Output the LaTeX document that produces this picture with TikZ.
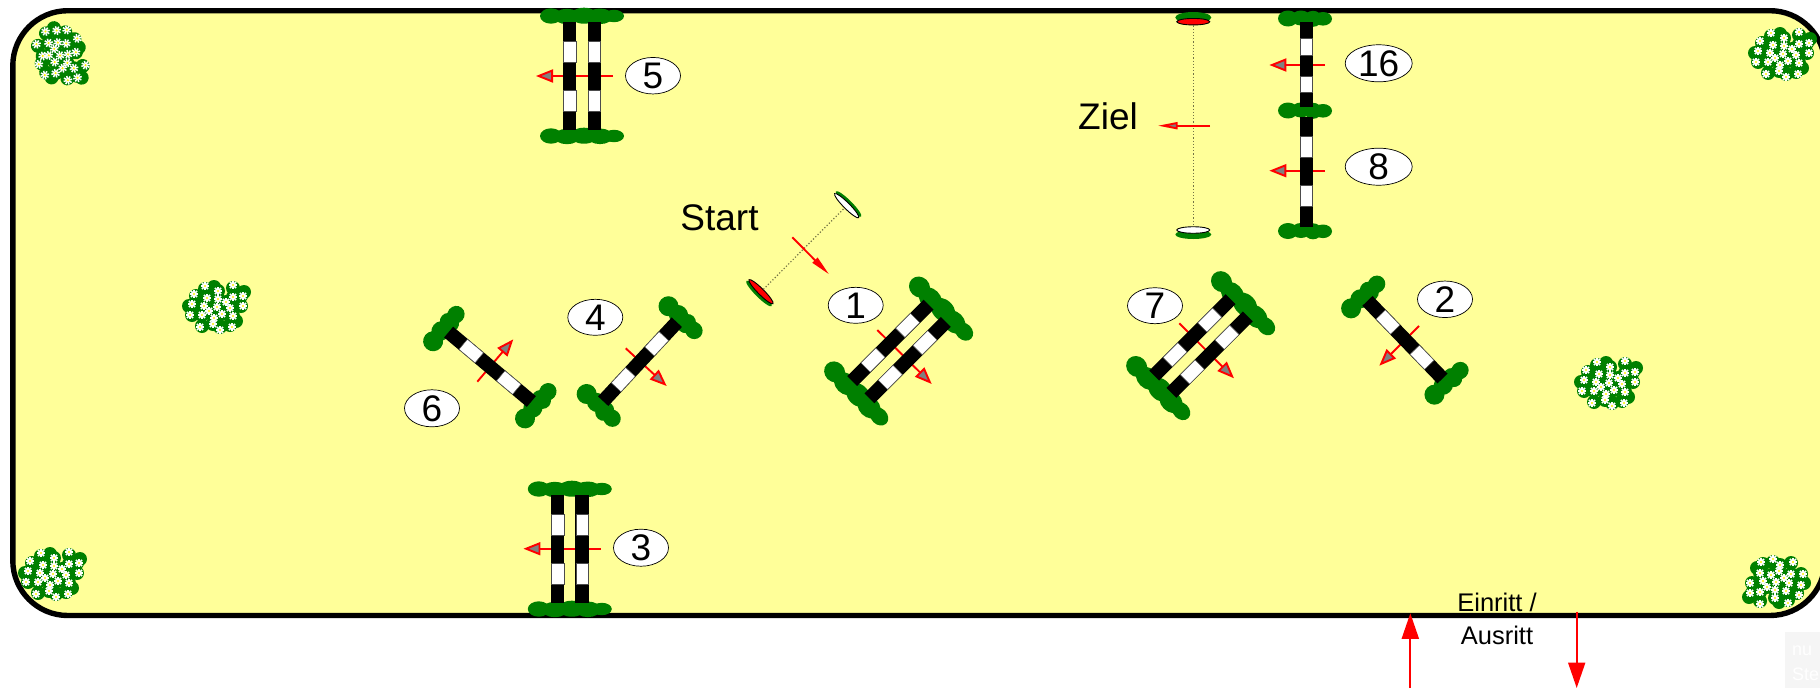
\documentclass[tikz,border=0pt]{standalone}
\usepackage{fontspec}
\setmainfont{Liberation Sans}
\usetikzlibrary{arrows.meta,shapes.geometric}
\definecolor{arena}{RGB}{255,255,153}
\definecolor{hedge}{RGB}{0,128,0}
\definecolor{dirgray}{RGB}{128,128,128}
\tikzset{
  frame/.style={draw=black,line width=5.4pt,fill=arena,rounded corners=55pt},
  polebar/.style={fill=black,draw=none},
  polegap/.style={fill=white,draw=black!70,line width=.5pt},
  greenblob/.style={fill=hedge,draw=none},
  numlabel/.style={ellipse,draw=black,fill=white,line width=.7pt,inner sep=0pt,minimum width=#1,minimum height=36pt,font=\fontsize{37}{37}\selectfont},
  biglabel/.style={anchor=base,inner sep=0pt,font=\fontsize{37}{37}\selectfont},
  smalllabel/.style={anchor=base,inner sep=0pt,font=\fontsize{25.5}{25.5}\selectfont},
  marklabel/.style={anchor=base west,inner sep=0pt,text=white,font=\fontsize{18}{18}\selectfont},
  dirarrow/.style={draw=red,line width=1.9pt,-{Triangle[length=17pt,width=13pt,fill=dirgray]}},
  startarrow/.style={draw=red,line width=1.9pt,-{Triangle[length=20pt,width=7pt,fill=#1]}},
  bigarrow/.style={draw=red,line width=2pt,-{Triangle[length=25.5pt,width=17pt,fill=red]}},
  lightline/.style={draw=black!55!arena,line width=1.2pt,dotted},
  gatered/.style={ellipse,draw=black,fill=red,line width=.9pt,inner sep=0pt,minimum width=33pt,minimum height=6.5pt},
  gatewhite/.style={ellipse,draw=black,fill=white,line width=.9pt,inner sep=0pt,minimum width=33pt,minimum height=6.5pt},
}
\newcommand{\WS}{1}
\newcommand{\PW}{6.6}
\newcommand{\PoleBar}[7]{%
  \fill[polebar] (#1-\PW,#2) rectangle (#1+\PW,#7);
  \filldraw[polegap] (#1-\PW+.4,#3) rectangle (#1+\PW-.4,#4);
  \filldraw[polegap] (#1-\PW+.4,#5) rectangle (#1+\PW-.4,#6);
}
\newcommand{\StdPole}[1]{\PoleBar{#1}{-54}{-35}{-14}{14}{35}{54}}
\newcommand{\WingSingle}[2]{%
  \begin{scope}[shift={(#1,#2)},yscale=\WS]
    \fill[greenblob] (-17,0) ellipse [x radius=10,y radius=8];
    \fill[greenblob] (-4,-0.5) ellipse [x radius=10,y radius=7.5];
    \fill[greenblob] (8,0.3) ellipse [x radius=9,y radius=8];
    \fill[greenblob] (18,0.3) ellipse [x radius=9,y radius=6.8];
  \end{scope}}
\newcommand{\WingDouble}[2]{%
  \begin{scope}[shift={(#1,#2)},yscale=\WS]
    \fill[greenblob] (-31,0) ellipse [x radius=11,y radius=7.7];
    \fill[greenblob] (-15,0.5) ellipse [x radius=13,y radius=7.7];
    \fill[greenblob] (2,-0.3) ellipse [x radius=14,y radius=8];
    \fill[greenblob] (18,0.3) ellipse [x radius=13,y radius=7.8];
    \fill[greenblob] (32,0) ellipse [x radius=10,y radius=6.2];
  \end{scope}}
\newcommand{\DoubleJump}[5]{%
  \begin{scope}[shift={(#1,#2)},rotate=#3]
    \renewcommand{\WS}{#4}\renewcommand{\PW}{#5}
    \WingDouble{0}{-60}\WingDouble{0}{60}
    \StdPole{-12.2}\StdPole{12.2}
  \end{scope}}
\newcommand{\SingleJump}[5]{%
  \begin{scope}[shift={(#1,#2)},rotate=#3]
    \renewcommand{\WS}{#4}\renewcommand{\PW}{#5}
    \WingSingle{0}{-60}\WingSingle{0}{60}
    \StdPole{0}
  \end{scope}}
\newcommand{\Flower}[2]{%
  \foreach \a in {0,45,...,315}{\draw[white,line width=1.5pt] (#1,#2) -- ++(\a:4.4);}
  \fill[yellow] (#1,#2) circle (1.2);}
\newcommand{\Bush}[3]{%
  \begin{scope}[shift={(#1,#2)},rotate=#3]
    \foreach \x/\y in {-11/-20,17/-21,-20/-13,2/-18,25/-13,-9/-11,17/-12,2/-10,10/-7,-22/-5,-12/-3,1/-2,14/-1,25/-3,-7/2,-24/6,-14/6,6/5,17/7,-2/9,-3/15,-14/17,4/18,14/16,-27/-3,28/-17,-2/-22,20/12}
      {\fill[hedge] (\x,\y) circle (7);}
    \foreach \x/\y in {-11/-23,17/-24,-22/-15,2/-18,27/-13,-9/-11,17/-12,2/-10,10/-7,-24/-5,-12/-3,1/-2,14/-1,27/-3,-7/2,-26/6,-14/6,6/5,17/7,-2/9,-3/15,-16/18,4/21,16/18}
      {\Flower{\x}{\y}}
  \end{scope}}
\begin{document}
\begin{tikzpicture}[x=1pt,y=-1pt]
\useasboundingbox (0,0) rectangle (1820,688);
\clip (0,0) rectangle (1820,688);
\fill[white] (0,0) rectangle (1820,688);
\path[frame] (12.8,10.7) rectangle (1825,615.5);

% faint corner mark
\fill[black!4] (1785,632) rectangle (1820,688);
\node[marklabel] (mark1) at (1792,655) {nu};
\node[marklabel] (mark2) at (1792,680) {Ste};

% bushes
\Bush{58}{55}{-75}
\Bush{1782}{56}{0}
\Bush{216}{309}{0}
\Bush{1608}{385}{0}
\Bush{52}{576}{0}
\Bush{1777}{580}{180}

% direction arrows (under the poles)
\coordinate (d5t) at (613,76);       \coordinate (d5h) at (536,76);
\coordinate (d3t) at (600.6,548.7);  \coordinate (d3h) at (523.4,548.7);
\coordinate (d16t) at (1325,65);     \coordinate (d16h) at (1269.3,65);
\coordinate (d8t) at (1325,170.7);   \coordinate (d8h) at (1269.3,170.7);
\coordinate (d1t) at (877.3,330);    \coordinate (d1h) at (931.7,384);
\coordinate (d4t) at (625.7,348.3);  \coordinate (d4h) at (666.7,386);
\coordinate (d6t) at (477.3,381.7);  \coordinate (d6h) at (513.3,339.3);
\coordinate (d2t) at (1419,326);     \coordinate (d2h) at (1379.3,365.7);
\coordinate (d7t) at (1179.3,323.3); \coordinate (d7h) at (1234,378.3);
\foreach \n in {5,3,16,8,1,4,6,2,7}{\draw[dirarrow] (d\n t) -- (d\n h);}

% jumps
\DoubleJump{582}{76}{0}{1}{6.6}
\DoubleJump{569.8}{549}{0}{1}{6.6}
\DoubleJump{899}{351.4}{-45}{1.3}{7}
\DoubleJump{1201}{346}{-45}{1.3}{7}
\SingleJump{640}{361.7}{-43}{1.25}{7}
\SingleJump{490}{366.8}{50}{1.25}{7}
\SingleJump{1405}{339.7}{44}{1.25}{7}
% combined 16 / 8
\WingSingle{1305}{18.5}
\WingSingle{1305}{110.5}
\WingSingle{1305}{231}
\PoleBar{1306.3}{21.7}{38.3}{55}{76}{92.7}{107}
\PoleBar{1306.3}{116.7}{136}{157.3}{185}{206.7}{226.7}

% start and finish gates
\fill[hedge] (1193.3,17.5) ellipse [x radius=18,y radius=5.5];
\fill[hedge] (1193.3,234.5) ellipse [x radius=18,y radius=4.5];
\node[gatered] (zieltop) at (1193.3,21.7) {};
\node[gatewhite] (zielbot) at (1193.3,230) {};
\draw[lightline] (zieltop) -- (zielbot);
\draw[startarrow=dirgray] (1210,125.7) coordinate (zt) -- (1157.7,125.7) coordinate (zh);

\fill[hedge,rotate around={-45:(848.5,204)}] (848.5,204) ellipse [x radius=18,y radius=3.5];
\fill[hedge,rotate around={-45:(759,293.5)}] (759,293.5) ellipse [x radius=18,y radius=3.5];
\node[gatewhite,rotate=-45,minimum width=34pt,minimum height=6pt] (startw) at (846.7,205.7) {};
\node[gatered,rotate=-45,minimum width=34pt,minimum height=6pt] (startr) at (761,291.7) {};
\draw[lightline] (startr) -- (startw);
\draw[startarrow=red] (792.3,237.3) coordinate (st) -- (829,274.3) coordinate (sh);

% number labels
\node[numlabel=55pt] (n5) at (653,75.7) {5};
\node[numlabel=55pt] (n3) at (641,547.7) {3};
\node[numlabel=67pt] (n16) at (1378.7,63.3) {16};
\node[numlabel=67pt] (n8) at (1378.7,166.7) {8};
\node[numlabel=55pt] (n1) at (855.7,305.3) {1};
\node[numlabel=55pt] (n4) at (595.3,317.3) {4};
\node[numlabel=55pt] (n6) at (432,408.3) {6};
\node[numlabel=55pt] (n7) at (1155,305.7) {7};
\node[numlabel=55pt] (n2) at (1445,299.3) {2};

% texts
\node[biglabel] (start) at (719.5,230) {Start};
\node[biglabel] (ziel) at (1108,129.3) {Ziel};
\node[smalllabel] (ein) at (1497,611.7) {Einritt /};
\node[smalllabel] (aus) at (1497,644) {Ausritt};

% entry and exit
\coordinate (inb) at (1410.3,688);  \coordinate (ine) at (1410.3,613.3);
\coordinate (outb) at (1576.7,611.7); \coordinate (oute) at (1576.7,688);
\draw[bigarrow] (inb) -- (ine);
\draw[bigarrow] (outb) -- (oute);
\end{tikzpicture}
\end{document}
